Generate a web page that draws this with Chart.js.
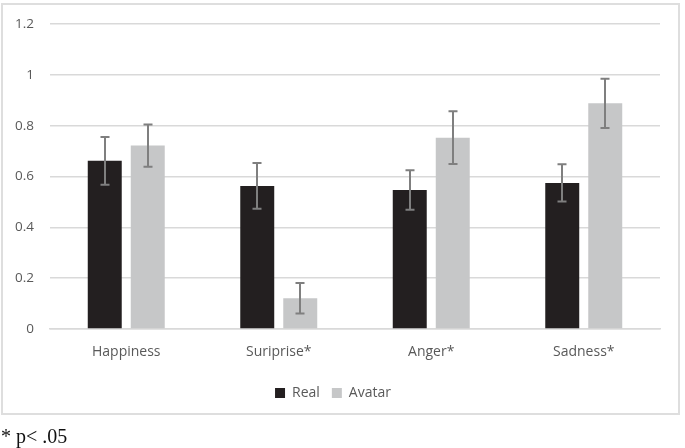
<!DOCTYPE html>
<html>
<head>
<meta charset="utf-8">
<script src="https://cdn.jsdelivr.net/npm/chart.js@4.4.1/dist/chart.umd.min.js"></script>
<style>
  body { margin: 0; background: #fff; }
  #marco {
    position: absolute; left: 1px; top: 3px; width: 679px; height: 412px;
    border: 2px solid #dedede; box-sizing: border-box;
  }
  #lienzo { position: absolute; left: 0; top: 0; }
  #nota {
    position: absolute; left: 1px; top: 425px;
    font-family: "Liberation Serif", "Times New Roman", serif; font-size: 20px; color: #111;
  }
</style>
</head>
<body>
<div id="marco"></div>
<canvas id="lienzo" width="685" height="448"></canvas>
<div id="nota">* p&lt; .05</div>
<script>
const categorias = ["Happiness", "Suriprise*", "Anger*", "Sadness*"];
const valoresReal = [0.662, 0.563, 0.547, 0.575];
const valoresAvatar = [0.722, 0.121, 0.753, 0.888];
// mitad de la barra de error (+/-)
const errorReal = [0.094, 0.09, 0.078, 0.073];
const errorAvatar = [0.083, 0.06, 0.104, 0.097];
const ticksY = [0, 0.2, 0.4, 0.6, 0.8, 1, 1.2];

const colorTexto = "#595959";

// dibuja las barras de error usando la escala del grafico
const barrasDeError = {
  id: "barrasDeError",
  afterDatasetsDraw(chart) {
    const { ctx } = chart;
    const escalaY = chart.scales.y;
    const errores = [errorReal, errorAvatar];
    ctx.save();
    ctx.strokeStyle = "#7f7f7f";
    ctx.lineWidth = 2;
    chart.data.datasets.forEach((ds, i) => {
      const meta = chart.getDatasetMeta(i);
      meta.data.forEach((barra, j) => {
        const v = ds.data[j];
        const e = errores[i][j];
        const yArriba = escalaY.getPixelForValue(v + e);
        const yAbajo = escalaY.getPixelForValue(v - e);
        const x = Math.round(barra.x);
        ctx.beginPath();
        ctx.moveTo(x, yArriba);
        ctx.lineTo(x, yAbajo);
        ctx.moveTo(x - 4.5, yArriba);
        ctx.lineTo(x + 4.5, yArriba);
        ctx.moveTo(x - 4.5, yAbajo);
        ctx.lineTo(x + 4.5, yAbajo);
        ctx.stroke();
      });
    });
    ctx.restore();
  },
};

new Chart(document.getElementById("lienzo"), {
  type: "bar",
  data: {
    labels: categorias,
    datasets: [
      {
        label: "Real",
        data: valoresReal,
        backgroundColor: "#231f20",
        categoryPercentage: 0.564,
        barPercentage: 0.79,
      },
      {
        label: "Avatar",
        data: valoresAvatar,
        backgroundColor: "#c6c7c8",
        categoryPercentage: 0.564,
        barPercentage: 0.79,
      },
    ],
  },
  options: {
    responsive: false,
    animation: false,
    layout: { padding: { left: 6, right: 25, top: 24, bottom: 38 } },
    scales: {
      x: {
        grid: { display: false },
        border: { display: true, color: "#d9d9d9", width: 1.5 },
        ticks: { color: colorTexto, font: { family: "Open Sans", size: 14 }, padding: 7 },
        afterFit: (s) => { s.height = 45; },
      },
      y: {
        min: 0,
        max: 1.2,
        afterBuildTicks: (s) => { s.ticks = ticksY.map((v) => ({ value: v })); },
        grid: { color: "#d9d9d9", lineWidth: 1.5, drawTicks: false },
        border: { display: false },
        ticks: {
          color: colorTexto,
          font: { family: "Open Sans", size: 13.5 },
          padding: 16,
          callback: (v) => String(v),
        },
        afterFit: (s) => { s.width = 44; },
      },
    },
    plugins: {
      legend: {
        position: "bottom",
        labels: {
          color: colorTexto,
          font: { family: "Open Sans", size: 14 },
          boxWidth: 10,
          boxHeight: 10,
          padding: 12,
        },
      },
      tooltip: { enabled: false },
    },
  },
  plugins: [barrasDeError],
});
</script>
</body>
</html>
